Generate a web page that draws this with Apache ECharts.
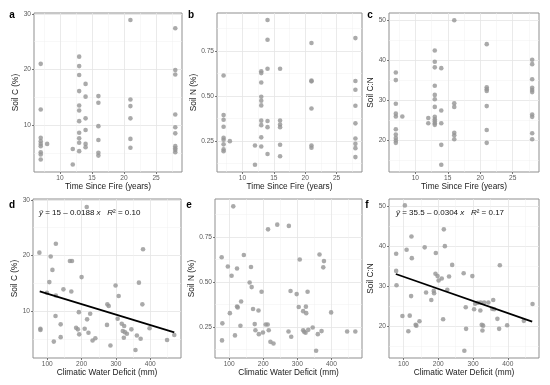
<!DOCTYPE html>
<html><head><meta charset="utf-8">
<script src="https://cdn.jsdelivr.net/npm/echarts@6/dist/echarts.min.js"></script>
<style>html,body{margin:0;padding:0;background:#fff}#c{width:550px;height:385px}</style>
</head><body><div id="c"></div>
<script>
// ---- data: top row (time since fire, years) ----
const tsfSoilC = [
 [7,21.0],[7,12.8],[7,7.7],[7,7.1],[7,6.6],[7,6.2],[7,5.1],[7,4.7],[7,3.8],
 [8,6.6],[12,5.7],[12,2.9],
 [13,22.3],[13,20.6],[13,19.0],[13,16.1],[13,13.5],[13,12.6],[13,10.7],[13,8.6],[13,7.6],[13,6.8],[13,5.3],
 [14,17.4],[14,15.1],[14,11.2],[14,9.1],[14,6.6],[14,6.0],
 [16,15.2],[16,14.0],[16,9.8],[16,7.3],[16,5.0],[16,4.5],
 [21,28.9],[21,14.6],[21,13.4],[21,11.2],[21,7.5],[21,5.9],
 [28,27.4],[28,19.9],[28,19.1],[28,11.9],[28,9.6],[28,8.5],[28,6.2],[28,5.8],[28,5.5],[28,5.1]
];
const tsfSoilN = [
 [7,0.614],[7,0.393],[7,0.367],[7,0.328],[7,0.267],[7,0.256],[7,0.230],[7,0.202],[7,0.192],
 [8,0.248],[12,0.224],[12,0.116],
 [13,0.637],[13,0.627],[13,0.575],[13,0.495],[13,0.473],[13,0.447],[13,0.362],[13,0.337],[13,0.269],[13,0.218],
 [14,0.923],[14,0.813],[14,0.651],[14,0.360],[14,0.326],[14,0.176],
 [16,0.651],[16,0.363],[16,0.341],[16,0.326],[16,0.228],[16,0.164],
 [21,0.795],[21,0.585],[21,0.581],[21,0.430],[21,0.224],[21,0.211],
 [28,0.822],[28,0.583],[28,0.534],[28,0.445],[28,0.347],[28,0.263],[28,0.233],[28,0.209],[28,0.159]
];
const tsfSoilCN = [
 [7,37.0],[7,35.1],[7,29.2],[7,26.7],[7,26.0],[7,22.8],[7,21.5],[7,20.6],[7,20.0],[7,19.4],
 [8,26.0],[12,25.6],[12,24.3],
 [13,42.5],[13,39.7],[13,38.3],[13,33.7],[13,31.4],[13,30.3],[13,28.4],[13,25.9],[13,25.3],[13,24.8],[13,24.3],[13,23.9],
 [14,38.1],[14,27.5],[14,24.3],[14,18.9],[14,13.9],
 [16,50.1],[16,29.3],[16,28.4],[16,21.9],[16,21.3],[16,20.3],
 [21,44.1],[21,33.3],[21,32.8],[21,32.4],[21,28.6],[21,22.6],[21,19.4],
 [28,40.2],[28,39.1],[28,35.3],[28,33.2],[28,32.6],[28,32.1],[28,26.5],[28,25.9],[28,21.8],[28,20.3]
];
// ---- data: bottom row (climatic water deficit, mm) ----
const cwdSoilC = [
 [77,20.5],[80,6.8],[80,6.6],[110,19.8],[125,22.1],[115,17.4],[106,15.2],[99,13.3],[125,12.8],[147,13.9],
 [170,13.5],[166,19.0],[172,19.0],[200,16.1],[124,9.1],[139,7.6],[139,5.3],[119,4.5],[192,9.8],[184,7.0],
 [189,6.7],[193,5.8],[209,6.8],[216,8.5],[225,9.5],[220,6.1],[232,4.7],[240,5.1],[215,28.7],
 [379,21.1],[299,14.6],[367,15.1],[308,12.7],[275,11.2],[279,10.9],[377,11.2],[305,8.6],[274,7.5],[317,7.7],
 [324,7.3],[320,6.4],[326,6.2],[332,5.9],[323,5.2],[345,6.7],[361,5.6],[372,5.0],[398,6.9],[284,3.8],
 [357,3.0],[449,4.8],[470,5.7]
];
const cwdSoilN = [
 [112,0.921],[78,0.637],[96,0.586],[107,0.534],[123,0.575],[143,0.650],[164,0.583],[160,0.497],[166,0.471],[195,0.445],
 [214,0.793],[241,0.819],[275,0.812],[135,0.391],[123,0.363],[125,0.358],[102,0.326],[170,0.349],[186,0.341],[80,0.269],
 [133,0.256],[175,0.265],[207,0.263],[213,0.263],[177,0.231],[187,0.209],[199,0.218],[216,0.231],[117,0.202],[79,0.174],
 [221,0.166],[230,0.157],
 [307,0.625],[365,0.653],[378,0.616],[376,0.581],[280,0.449],[298,0.432],[330,0.445],[304,0.360],[325,0.362],[317,0.337],
 [326,0.326],[399,0.330],[274,0.224],[282,0.194],[317,0.231],[320,0.222],[324,0.217],[332,0.233],[345,0.246],[360,0.209],
 [371,0.226],[446,0.224],[470,0.224],[355,0.116]
];
const cwdSoilCN = [
 [104,50.3],[79,38.2],[79,33.9],[80,30.3],[97,22.6],[109,39.2],[123,42.5],[124,37.1],[122,27.6],[118,22.7],
 [114,18.8],[135,20.4],[137,20.2],[146,21.3],[161,39.8],[193,38.4],[216,44.3],[219,40.1],[240,35.4],[192,33.2],
 [198,32.6],[165,28.5],[180,26.6],[187,28.9],[188,28.3],[201,31.5],[210,32.0],[231,32.5],[226,29.2],[214,21.8],
 [273,33.3],[279,24.8],[280,19.4],[275,13.9],
 [298,32.6],[377,35.3],[303,24.3],[306,25.7],[314,25.9],[322,26.0],[321,24.0],[332,26.0],[344,26.0],[358,26.6],
 [355,24.4],[361,24.3],[325,20.4],[329,20.2],[327,19.0],[370,21.9],[375,19.4],[398,20.3],[446,21.4],[471,25.6]
];
// fitted lines (end points)
const fitSoilC = [[78,13.53],[470,6.16]];
const fitSoilCN = [[78,33.13],[470,21.21]];
// tick labels
const ticksTSF = [10,15,20,25];
const ticksCWD = [100,200,300,400];
const ticksC = [10,20,30];
const ticksN = [0.25,0.50,0.75];
const ticksCN = [20,30,40,50];
const panelLetters = ['a','b','c','d','e','f'];
const xTitles = ['Time Since Fire (years)','Climatic Water Deficit (mm)'];
const yTitles = ['Soil C (%)','Soil N (%)','Soil C:N'];
const eqD = '{i|ŷ} = 15 \u2013 0.0188 {i|x}   {i|R}² = 0.10';
const eqF = '{i|ŷ} = 35.5 \u2013 0.0304 {i|x}   {i|R}² = 0.17';

const FONT = 'Liberation Sans, Arial, Helvetica, sans-serif';
const grids = [
 {left:34, top:13, width:148, height:159},
 {left:217, top:13, width:145, height:159},
 {left:389, top:13, width:150, height:159},
 {left:33, top:199, width:148, height:159},
 {left:215, top:199, width:147, height:159},
 {left:389, top:199, width:150, height:159}
].map(g => Object.assign(g, {show:true, borderColor:'#8f8f8f', borderWidth:1, backgroundColor:'#fff'}));

function numOf(v){ return (v && typeof v === 'object') ? Number(v.value) : Number(v); }
function axisCommon(gi, min, max, step, ticks, name, gap, digits){
  const fmt = function(v){
    const n = numOf(v);
    const hit = ticks.some(t => Math.abs(t - n) < step * 1e-6);
    return hit ? n.toFixed(digits) : '';
  };
  return {
    type:'value', gridIndex:gi, min:min, max:max, minInterval:step, maxInterval:step,
    name:name, nameLocation:'middle', nameGap:gap,
    nameTextStyle:{fontSize:8.3, color:'#1a1a1a', fontFamily:FONT},
    axisLine:{show:false},
    axisTick:{show:true, length:2, inside:false, customValues:ticks, lineStyle:{color:'#555', width:0.8}},
    axisLabel:{fontSize:6.6, color:'#5a5a5a', fontFamily:FONT, margin:3, formatter: fmt,
               customValues:ticks, showMinLabel:true, showMaxLabel:true},
    splitLine:{show:true, lineStyle:{color:'#e4e4e4', width:0.8}},
    minorTick:{show:false, splitNumber:2},
    minorSplitLine:{show:true, lineStyle:{color:'#f1f1f1', width:0.5}}
  };
}
const xAxes = [
 axisCommon(0, 5.95, 29.05, 5, ticksTSF, xTitles[0], 9.5, 0),
 axisCommon(1, 5.95, 29.05, 5, ticksTSF, xTitles[0], 9.5, 0),
 axisCommon(2, 5.95, 29.05, 5, ticksTSF, xTitles[0], 9.5, 0),
 axisCommon(3, 58.4, 489.6, 100, ticksCWD, xTitles[1], 10, 0),
 axisCommon(4, 58.4, 489.6, 100, ticksCWD, xTitles[1], 10, 0),
 axisCommon(5, 58.4, 489.6, 100, ticksCWD, xTitles[1], 10, 0)
];
const yAxes = [
 axisCommon(0, 1.55, 30.15, 10, ticksC, yTitles[0], 11.5, 0),
 axisCommon(1, 0.076, 0.962, 0.25, ticksN, yTitles[1], 15, 2),
 axisCommon(2, 12.1, 51.9, 10, ticksCN, yTitles[2], 10.5, 0),
 axisCommon(3, 1.55, 30.15, 10, ticksC, yTitles[0], 11.5, 0),
 axisCommon(4, 0.076, 0.962, 0.25, ticksN, yTitles[1], 15, 2),
 axisCommon(5, 12.1, 51.9, 10, ticksCN, yTitles[2], 10.5, 0)
];
const scatterData = [tsfSoilC, tsfSoilN, tsfSoilCN, cwdSoilC, cwdSoilN, cwdSoilCN];
const series = scatterData.map((d,i) => ({
  type:'scatter', xAxisIndex:i, yAxisIndex:i, data:d, symbolSize:4.6,
  itemStyle:{color:'#959595'}, silent:true, z:3
}));
series.push({type:'line', xAxisIndex:3, yAxisIndex:3, data:fitSoilC, symbol:'none',
  lineStyle:{color:'#000', width:1.8}, silent:true, z:4});
series.push({type:'line', xAxisIndex:5, yAxisIndex:5, data:fitSoilCN, symbol:'none',
  lineStyle:{color:'#000', width:1.8}, silent:true, z:4});

const letterPos = [[12,15],[191,15],[370,15],[12,205],[189,205],[367,205]];
const graphics = panelLetters.map((t,i) => ({
  type:'text', x:letterPos[i][0], y:letterPos[i][1], z:10,
  style:{text:t, font:'bold 10px ' + FONT, fill:'#000', align:'center', verticalAlign:'middle'}
}));
const richEq = {i:{fontStyle:'italic', fontSize:8, fontFamily:FONT, fill:'#111'}};
graphics.push({type:'text', x:39, y:212.5, z:10, style:{text:eqD, font:'8px ' + FONT, fill:'#111',
  verticalAlign:'middle', rich:richEq}});
graphics.push({type:'text', x:396, y:212.5, z:10, style:{text:eqF, font:'8px ' + FONT, fill:'#111',
  verticalAlign:'middle', rich:richEq}});

const chart = echarts.init(document.getElementById('c'), null, {renderer:'canvas'});
chart.setOption({
  animation:false, backgroundColor:'#fff',
  textStyle:{fontFamily:FONT},
  grid:grids, xAxis:xAxes, yAxis:yAxes, series:series, graphic:graphics
});
</script></body></html>
